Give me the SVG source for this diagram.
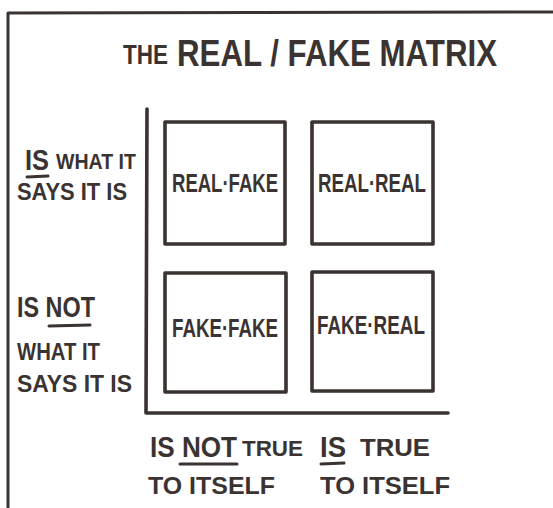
<svg xmlns="http://www.w3.org/2000/svg" width="553" height="508" viewBox="0 0 553 508">
  <style>
    .ink { fill: none; stroke: #3a3331; stroke-linecap: round; stroke-linejoin: round; }
    .frame { stroke-width: 3; }
    .box { stroke-width: 3.6; fill: #ffffff; }
    .axis { stroke-width: 3.6; }
    .ul { stroke-width: 3; }
    text { font-family: "Liberation Sans", Arial, sans-serif; fill: #3a3331; font-weight: bold; }
    .title { font-size: 36px; }
    .title-sm { font-size: 27px; }
    .big { font-size: 29px; }
    .small { font-size: 24px; }
    .tiny { font-size: 22px; }
    .cell { font-size: 26px; text-anchor: middle; }
  </style>
  <rect x="0" y="0" width="553" height="508" fill="#ffffff"/>

  <!-- page frame -->
  <g id="frame">
    <path class="ink frame" d="M8 508 L8 13 L553 12"/>
  </g>

  <!-- title -->
  <g id="title">
    <text class="title-sm" x="123" y="64" textLength="45" lengthAdjust="spacingAndGlyphs">THE</text>
    <text class="title" x="177" y="66" textLength="320" lengthAdjust="spacingAndGlyphs">REAL / FAKE MATRIX</text>
  </g>

  <!-- axes -->
  <g id="connectors">
    <path class="ink axis" d="M147 109 L146 413 L448 413"/>
  </g>

  <!-- quadrant cells -->
  <g id="cell-real-fake">
    <rect class="ink box" x="165" y="122" width="120" height="122"/>
    <text class="cell" x="225" y="192" textLength="106" lengthAdjust="spacingAndGlyphs">REAL·FAKE</text>
  </g>
  <g id="cell-real-real">
    <rect class="ink box" x="312" y="122" width="121" height="122"/>
    <text class="cell" x="372" y="192" textLength="108" lengthAdjust="spacingAndGlyphs">REAL·REAL</text>
  </g>
  <g id="cell-fake-fake">
    <rect class="ink box" x="165" y="273" width="121" height="119"/>
    <text class="cell" x="225" y="337" textLength="106" lengthAdjust="spacingAndGlyphs">FAKE·FAKE</text>
  </g>
  <g id="cell-fake-real">
    <rect class="ink box" x="312" y="272" width="121" height="119"/>
    <text class="cell" x="371" y="334" textLength="108" lengthAdjust="spacingAndGlyphs">FAKE·REAL</text>
  </g>

  <!-- row labels -->
  <g id="row-is">
    <text class="big" x="25" y="170" textLength="24" lengthAdjust="spacingAndGlyphs">IS</text>
    <path class="ink ul" d="M27 177 L48 176"/>
    <text class="tiny" x="56" y="169" textLength="80" lengthAdjust="spacingAndGlyphs">WHAT IT</text>
    <text class="small" x="17" y="200" textLength="110" lengthAdjust="spacingAndGlyphs">SAYS IT IS</text>
  </g>
  <g id="row-is-not">
    <text class="big" x="17" y="317" textLength="78" lengthAdjust="spacingAndGlyphs">IS NOT</text>
    <path class="ink ul" d="M49 326 L90 325"/>
    <text class="small" x="17" y="360" textLength="83" lengthAdjust="spacingAndGlyphs">WHAT IT</text>
    <text class="small" x="17" y="392" textLength="115" lengthAdjust="spacingAndGlyphs">SAYS IT IS</text>
  </g>

  <!-- column labels -->
  <g id="col-is-not">
    <text class="big" x="150" y="457" textLength="87" lengthAdjust="spacingAndGlyphs">IS NOT</text>
    <path class="ink ul" d="M180 464 L237 464"/>
    <text class="tiny" x="242" y="456" textLength="61" lengthAdjust="spacingAndGlyphs">TRUE</text>
    <text class="small" x="148" y="494" textLength="127" lengthAdjust="spacingAndGlyphs">TO ITSELF</text>
  </g>
  <g id="col-is">
    <text class="big" x="320" y="457" textLength="26" lengthAdjust="spacingAndGlyphs">IS</text>
    <path class="ink ul" d="M321 464 L344 463"/>
    <text class="small" x="360" y="456" textLength="70" lengthAdjust="spacingAndGlyphs">TRUE</text>
    <text class="small" x="320" y="494" textLength="130" lengthAdjust="spacingAndGlyphs">TO ITSELF</text>
  </g>
</svg>
